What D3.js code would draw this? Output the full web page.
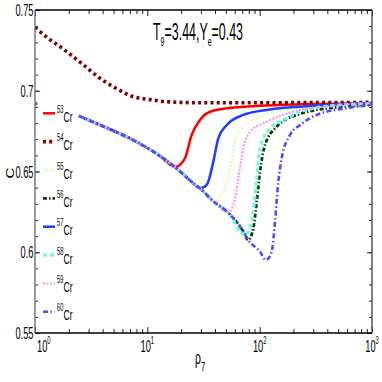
<!DOCTYPE html>
<html>
<head>
<meta charset="utf-8">
<script src="https://cdn.jsdelivr.net/npm/d3@7"></script>
<style>
body { margin: 0; background: #fff; }
text { font-family: "Liberation Sans", Arial, sans-serif; fill: #000; }
</style>
</head>
<body>
<div id="chart"></div>
<script>
const width = 382, height = 382;

// [rho_7, C].
// descending part that all the n-rich curves share before they turn up
const branch = [[2.46, 0.6844], [3.79, 0.6788], [7.46, 0.6695], [12.97, 0.6596], [17.6, 0.6528],
    [25.7, 0.6427], [29.4, 0.6396], [38.5, 0.6317], [52.3, 0.6246], [71.1, 0.6132],
    [79.2, 0.6076], [100.7, 0.6003], [113.8, 0.5952]];

const cr53 = branch.slice(0, 5).concat([[21.6, 0.6582], [24.8, 0.6726], [29.4, 0.6819],
    [36.1, 0.6870], [50.9, 0.6891], [100.7, 0.6907], [229, 0.6916], [1000, 0.6922]]);
const cr54 = [[1, 0.7393], [1.3, 0.7327], [1.92, 0.7242], [2.7, 0.7160], [3.79, 0.7077],
    [5.3, 0.7014], [7.5, 0.6963], [10.6, 0.6945], [14.9, 0.6932], [29.4, 0.6926],
    [100, 0.6926], [1000, 0.6928]];
const cr55 = branch.slice(0, 8).concat([[47.5, 0.6377], [54.5, 0.6520], [60.3, 0.6684],
    [71.5, 0.6778], [100.7, 0.6840], [174, 0.6881], [400, 0.6910], [1000, 0.6924]]);
const cr56 = branch.slice(0, 11).concat([[87.8, 0.6148], [94.1, 0.6313], [100.7, 0.6499],
    [111.6, 0.6665], [142, 0.6778], [214, 0.6850], [519, 0.6900], [1000, 0.6916]]);
const cr57 = branch.slice(0, 7).concat([[33.8, 0.6417], [38.7, 0.6561], [42.8, 0.6705],
    [50.9, 0.6788], [71.5, 0.6850], [115.5, 0.6881], [229, 0.6901], [1000, 0.6924]]);
const cr58 = branch.slice(0, 9).concat([[74, 0.6107], [85, 0.6190], [94.1, 0.6458],
    [100.7, 0.6643], [123.6, 0.6767], [174, 0.6829], [229, 0.6870], [423, 0.6906],
    [1000, 0.6920]]);
const cr59 = branch.slice(0, 9).concat([[58.3, 0.6293], [64.5, 0.6458], [71.5, 0.6643],
    [82.1, 0.6746], [115.5, 0.6808], [199, 0.6870], [400, 0.6905], [1000, 0.6922]]);
const cr60 = branch.slice(0, 13).concat([[128, 0.6004], [137, 0.6190], [146.6, 0.6437],
    [157, 0.6582], [186, 0.6726], [229, 0.6788], [322, 0.6850], [637, 0.6895],
    [1000, 0.6912]]);
const cr60Stray = [[1, 0.6920]];

const isotopes = ["53", "54", "55", "56", "57", "58", "59", "60"];
const seriesData = [cr53, cr54, cr55, cr56, cr57, cr58, cr59, cr60];

const colors = ["#ff0000", "#800000", "#c8ff96", "#0b3d0b", "#1f3cff", "#6affd2", "#ff8cf0", "#5a46ff"];
const dashes = [null, "3,3.2", "1.6,1.6", "4,2,1.5,2", null, "4,3", "2,1.5", "5,2.5,1.5,2.5"];
const widths = [2.5, 3.6, 1.6, 2.8, 2.5, 3.2, 2, 2.6];

const xTicks = [1, 10, 100, 1000];
const xTickExp = ["0", "1", "2", "3"];
const yTicks = [0.55, 0.6, 0.65, 0.7, 0.75];
const yTickLabels = ["0.55", "0.6", "0.65", "0.7", "0.75"];

const plotLeft = 35, plotRight = 372, plotTop = 10, plotBottom = 333;
const sx = 0.58;   // text in the figure is horizontally condensed

const x = d3.scaleLog().domain([1, 1000]).range([plotLeft, plotRight]);
const y = d3.scaleLinear().domain([0.55, 0.75]).range([plotBottom, plotTop]);

const svg = d3.select("#chart").append("svg")
    .attr("width", width)
    .attr("height", height);

svg.append("defs").append("clipPath").attr("id", "plotclip")
    .append("rect")
    .attr("x", plotLeft).attr("y", plotTop)
    .attr("width", plotRight - plotLeft).attr("height", plotBottom - plotTop);

// minor + major ticks, pointing inward on all four sides
var xMinor = [];
for (var d = 1; d < 1000; d *= 10)
    for (var k = 2; k < 10; k++) xMinor.push(d * k);
var yMinor = d3.range(0, 21).map(function(i) { return 0.55 + i * 0.01; });

function tickLayer(axis, tx, ty) {
    var g = svg.append("g").attr("transform", "translate(" + tx + "," + ty + ")").call(axis);
    g.select(".domain").remove();
    g.selectAll("line").attr("stroke", "#222").attr("stroke-width", 1);
    g.selectAll("text").remove();
    return g;
}
tickLayer(d3.axisBottom(x).tickValues(xMinor).tickSize(-4), 0, plotBottom);
tickLayer(d3.axisBottom(x).tickValues(xTicks).tickSize(-6), 0, plotBottom);
tickLayer(d3.axisTop(x).tickValues(xMinor).tickSize(-4), 0, plotTop);
tickLayer(d3.axisTop(x).tickValues(xTicks).tickSize(-6), 0, plotTop);
tickLayer(d3.axisLeft(y).tickValues(yMinor).tickSize(-3), plotLeft, 0);
tickLayer(d3.axisLeft(y).tickValues(yTicks).tickSize(-5), plotLeft, 0);
tickLayer(d3.axisRight(y).tickValues(yMinor).tickSize(-3), plotRight, 0);
tickLayer(d3.axisRight(y).tickValues(yTicks).tickSize(-5), plotRight, 0);

// curves
var line = d3.line()
    .x(function(d) { return x(d[0]); })
    .y(function(d) { return y(d[1]); })
    .curve(d3.curveMonotoneX);

var curves = svg.append("g").attr("clip-path", "url(#plotclip)");
seriesData.forEach(function(s, i) {
    curves.append("path")
        .attr("d", line(s))
        .attr("fill", "none")
        .attr("stroke", colors[i])
        .attr("stroke-width", widths[i])
        .attr("stroke-dasharray", dashes[i]);
});
curves.selectAll("rect.stray").data(cr60Stray).enter().append("rect")
    .attr("class", "stray")
    .attr("x", function(d) { return x(d[0]); })
    .attr("y", function(d) { return y(d[1]) - 1.5; })
    .attr("width", 2.5).attr("height", 3)
    .attr("fill", colors[7]);

// frame
svg.append("line").attr("x1", plotLeft).attr("x2", plotRight).attr("y1", plotTop).attr("y2", plotTop)
    .attr("stroke", "#000").attr("stroke-width", 1.5);
svg.append("line").attr("x1", plotLeft).attr("x2", plotRight).attr("y1", plotBottom).attr("y2", plotBottom)
    .attr("stroke", "#000").attr("stroke-width", 1.5);
svg.append("line").attr("x1", plotLeft).attr("x2", plotLeft).attr("y1", plotTop).attr("y2", plotBottom)
    .attr("stroke", "#777").attr("stroke-width", 1.5);
svg.append("line").attr("x1", plotRight).attr("x2", plotRight).attr("y1", plotTop).attr("y2", plotBottom)
    .attr("stroke", "#555").attr("stroke-width", 1.5);

// condensed text helper
function squished(px, py, anchor, size, scale) {
    return svg.append("g")
        .attr("transform", "translate(" + px + "," + py + ") scale(" + (scale || sx) + ",1)")
        .append("text")
        .attr("text-anchor", anchor)
        .attr("font-size", size);
}

yTicks.forEach(function(v, i) {
    squished(plotLeft - 1.5, y(v) + 6, "end", 16).text(yTickLabels[i]);
});
xTicks.forEach(function(v, i) {
    // first label sits right of its tick so it clears the 0.55 label
    var t = i === 0 ? squished(x(v) + 2, 352, "start", 16) : squished(x(v), 352, "middle", 16);
    t.append("tspan").text("10");
    t.append("tspan").attr("dy", -8).attr("font-size", 10).text(xTickExp[i]);
});

// axis labels
svg.append("g").attr("transform", "translate(13.5,173) rotate(-90) scale(1,0.75)")
    .append("text").attr("text-anchor", "middle").attr("font-size", 15).text("C");
var xl = squished(200, 364, "middle", 18);
xl.append("tspan").text("\u03c1");
xl.append("tspan").attr("dy", 7).attr("font-size", 13).text("7");

// title
var title = squished(198, 40, "middle", 23, 0.54);
title.append("tspan").text("T");
title.append("tspan").attr("dy", 6).attr("font-size", 13).text("9");
title.append("tspan").attr("dy", -6).text("=3.44,Y");
title.append("tspan").attr("dy", 6).attr("font-size", 13).text("e");
title.append("tspan").attr("dy", -6).text("=0.43");

// legend
var legendTop = 113.3, legendStep = 28.35;
isotopes.forEach(function(name, i) {
    var ly = legendTop + i * legendStep;
    svg.append("line")
        .attr("x1", 43).attr("x2", 55).attr("y1", ly).attr("y2", ly)
        .attr("stroke", colors[i])
        .attr("stroke-width", widths[i])
        .attr("stroke-dasharray", dashes[i]);
    var t = squished(57, ly + 8.5, "start", 15);
    t.append("tspan").attr("dy", -9).attr("font-size", 10).text(name);
    t.append("tspan").attr("dy", 9).text("Cr");
});
</script>
</body>
</html>
